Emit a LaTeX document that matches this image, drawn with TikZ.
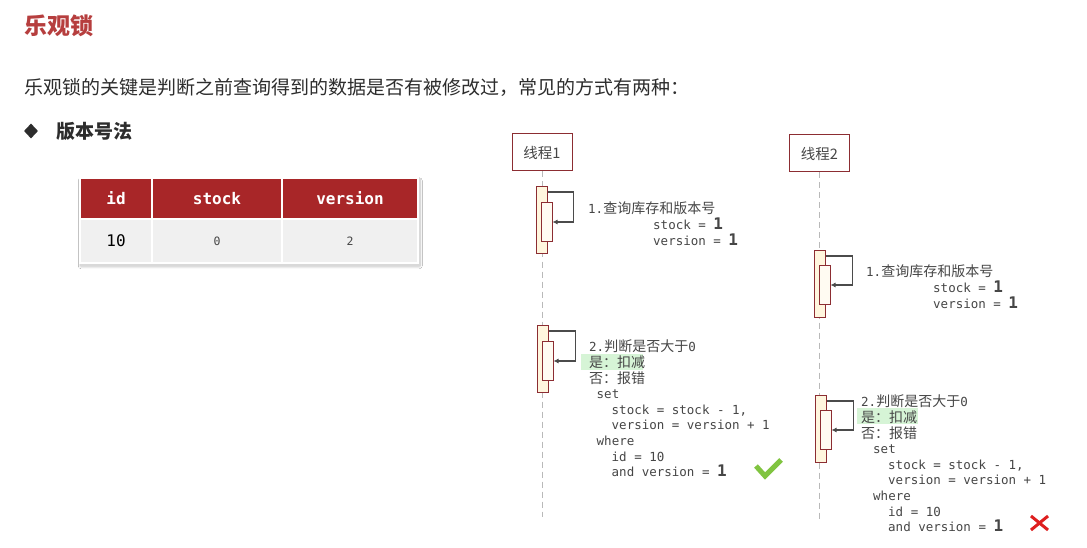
\documentclass[tikz,border=0pt]{standalone}
\usepackage{fontspec}
\setmainfont{Noto Sans CJK SC}
\setmonofont{DejaVu Sans Mono}
\newfontfamily\cjk{Noto Sans CJK SC}[Scale=1.12]
\usetikzlibrary{shapes.geometric, arrows.meta, positioning, calc, shadows.blur}
\definecolor{titlered}{RGB}{182,62,62}
\definecolor{headred}{RGB}{168,38,40}
\definecolor{boxred}{RGB}{140,45,50}
\definecolor{actfill}{RGB}{255,246,222}
\definecolor{txtgray}{RGB}{70,70,70}
\definecolor{bodygray}{RGB}{45,45,45}
\definecolor{arrgray}{RGB}{75,75,75}
\definecolor{hlgreen}{RGB}{214,244,214}
\definecolor{okgreen}{RGB}{128,196,64}
\definecolor{badred}{RGB}{222,30,30}
\newcommand{\one}{{\fontsize{16}{15.6}\selectfont\bfseries 1}}

\begin{document}
\begin{tikzpicture}[x=1pt, y=-1pt,
  thread/.style={rectangle, draw=boxred, line width=1pt, fill=white,
                 minimum width=60pt, minimum height=37pt,
                 font=\fontsize{14.5}{16}\selectfont, text=txtgray},
  life/.style={draw=gray!55, line width=1pt, dash pattern=on 6pt off 4pt},
  act/.style={rectangle, draw=boxred, line width=1pt, fill=actfill,
              minimum width=11pt, minimum height=67pt, inner sep=0, anchor=north},
  actin/.style={rectangle, draw=boxred, line width=1pt, fill=white!60!actfill,
                minimum width=11pt, minimum height=39pt, inner sep=0, anchor=north},
  msg/.style={draw=arrgray, line width=1.1pt, -{Latex[length=5pt,width=5pt]}},
  code/.style={anchor=north west, inner sep=0, align=left, text=txtgray,
               font=\ttfamily\fontsize{12.5}{15.6}\selectfont},
  hcell/.style={rectangle, draw=white, line width=1.2pt, fill=headred,
                minimum height=41pt, inner sep=0, outer sep=0, text=white,
                font=\ttfamily\bfseries\fontsize{16}{18}\selectfont},
  dcell/.style={rectangle, draw=white, line width=1.2pt, fill=gray!12,
                minimum height=44pt, inner sep=0, outer sep=0},
]
  \fill[white] (0,0) rectangle (1087,548);
  \useasboundingbox (0,0) rectangle (1087,548);

  % Heading and intro
  \node[anchor=west, inner sep=0, text=titlered,
        font=\bfseries\fontsize{23}{26}\selectfont] (title) at (24,26) {乐观锁};
  \node[anchor=west, inner sep=0, text=bodygray,
        font=\fontsize{19}{22}\selectfont] (intro) at (24,87)
        {乐观锁的关键是判断之前查询得到的数据是否有被修改过，常见的方式有两种：};
  \node[diamond, fill=bodygray, inner sep=0, minimum width=14pt,
        minimum height=15pt] (bul) at (31,131) {};
  \node[right=18pt of bul, inner sep=0, text=bodygray,
        font=\bfseries\fontsize{19}{22}\selectfont] (way) {版本号法};

  % Table
  \node[rectangle, fill=white, draw=gray!30, line width=2.5pt,
        minimum width=338pt, minimum height=85pt, anchor=north west, inner sep=0,
        blur shadow={shadow xshift=0pt, shadow yshift=-1.5pt, shadow blur radius=3pt}]
        (tbl) at (80,178) {};
  \node[hcell, minimum width=72pt, anchor=north west] (hid) at (80,178) {id};
  \node[hcell, minimum width=130pt, right=0pt of hid] (hstock) {stock};
  \node[hcell, minimum width=136pt, right=0pt of hstock] (hver) {version};
  \node[dcell, minimum width=72pt, below=0pt of hid,
        font=\ttfamily\fontsize{16}{18}\selectfont] (did) {10};
  \node[dcell, minimum width=130pt, below=0pt of hstock, text=txtgray,
        font=\ttfamily\fontsize{11.5}{13}\selectfont] (dstock) {0};
  \node[dcell, minimum width=136pt, below=0pt of hver, text=txtgray,
        font=\ttfamily\fontsize{11.5}{13}\selectfont, text depth=-4pt] (dver) {2};

  % Threads and lifelines
  \node[thread] (t1) at (542,152.5) {线程1};
  \node[thread] (t2) at (819.5,153.5) {线程2};
  \coordinate (t1end) at (542,517);
  \coordinate (t2end) at (819.5,519);
  \draw[life] (t1) -- (t1end);
  \draw[life] (t2) -- (t2end);

  % Activations
  \node[act]   (a11)  at (541.5,186) {};
  \node[actin] (a11i) at (546.5,202) {};
  \node[act]   (a12)  at (542.5,325) {};
  \node[actin] (a12i) at (547.5,341) {};
  \node[act]   (a21)  at (819.5,250) {};
  \node[actin] (a21i) at (824.5,265) {};
  \node[act]   (a22)  at (820.5,395) {};
  \node[actin] (a22i) at (825.5,410) {};

  % Self calls
  \draw[msg] ([yshift=-6pt]a11.north east) -| ([xshift=21pt]a11i.east) -- (a11i.east);
  \draw[msg] ([yshift=-6pt]a12.north east) -| ([xshift=22pt]a12i.east) -- (a12i.east);
  \draw[msg] ([yshift=-6pt]a21.north east) -| ([xshift=22pt]a21i.east) -- (a21i.east);
  \draw[msg] ([yshift=-6pt]a22.north east) -| ([xshift=22pt]a22i.east) -- (a22i.east);

  % Thread 1 notes
  \node[code] (n11) at (588,202)
    {1.{\cjk 查询库存和版本号}\\
     \hspace*{65pt}stock = \one\\
     \hspace*{65pt}version = \one};
  \fill[hlgreen] (581,354) rectangle (643,370);
  \node[code] (n12) at (589,340)
    {2.{\cjk 判断是否大于}0\\
     {\cjk 是：扣减}\\
     {\cjk 否：报错}\\
     \hspace*{7.5pt}set\\
     \hspace*{22.5pt}stock = stock - 1,\\
     \hspace*{22.5pt}version = version + 1\\
     \hspace*{7.5pt}where\\
     \hspace*{22.5pt}id = 10\\
     \hspace*{22.5pt}and version = \one};

  % Thread 2 notes
  \node[code] (n21) at (866,265)
    {1.{\cjk 查询库存和版本号}\\
     \hspace*{67pt}stock = \one\\
     \hspace*{67pt}version = \one};
  \fill[hlgreen] (857,408) rectangle (918,424);
  \node[code] (n22) at (861,395)
    {2.{\cjk 判断是否大于}0\\
     {\cjk 是：扣减}\\
     {\cjk 否：报错}\\
     \hspace*{12pt}set\\
     \hspace*{27pt}stock = stock - 1,\\
     \hspace*{27pt}version = version + 1\\
     \hspace*{12pt}where\\
     \hspace*{27pt}id = 10\\
     \hspace*{27pt}and version = \one};

  % Results
  \draw[okgreen, line width=5pt] (756,466) -- (765,476) -- (781,460);
  \draw[badred, line width=3pt] (1031,516) -- (1048,530) (1048,516) -- (1031,530);
\end{tikzpicture}
\end{document}
